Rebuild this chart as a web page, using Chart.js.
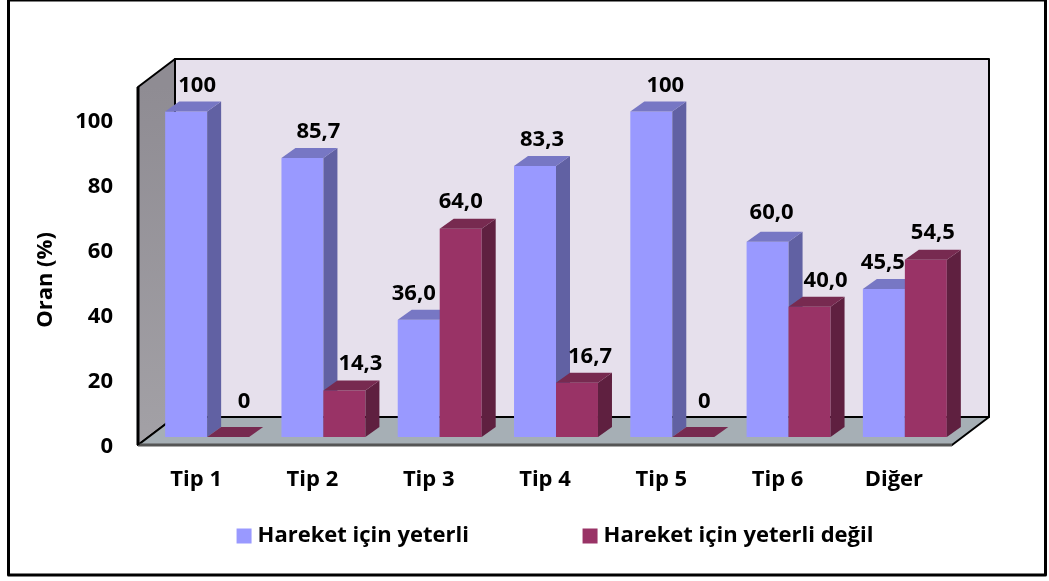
<!DOCTYPE html>
<html>
<head>
<meta charset="utf-8">
<style>
  html, body { margin: 0; padding: 0; background: #fff; }
  canvas { display: block; }
</style>
<script src="https://cdn.jsdelivr.net/npm/chart.js@4/dist/chart.umd.min.js"></script>
</head>
<body>
<canvas id="chart" width="1049" height="581"></canvas>
<script>
const categories = ['Tip 1', 'Tip 2', 'Tip 3', 'Tip 4', 'Tip 5', 'Tip 6', 'Diğer'];
const yeterli = [100, 85.7, 36.0, 83.3, 100, 60.0, 45.5];
const yeterliDegil = [0, 14.3, 64.0, 16.7, 0, 40.0, 54.5];
const seriesNames = ['Hareket için yeterli', 'Hareket için yeterli değil'];
const yTicks = [0, 20, 40, 60, 80, 100];
const yTitle = 'Oran (%)';

const FONT = '"Open Sans", sans-serif';
const BOLD = { family: FONT, size: 22, weight: 'bold' };

// hand placed labels in the original, nudge from the bar centre (px)
const labelNudge = [
    [[11, 0], [16, 0], [-5, 0], [7, 0], [14, 0], [4, 3], [-1, 0]],
    [[16, 9], [16, 1], [0, 1], [13, 0], [11, 9], [16, 0], [7, 1]]
];

const sideColors = ['#6161a3', '#5f2040'];
const topColors = ['#7777c4', '#772a50'];
const BAR_DX = 14, BAR_DY = 10;   // bar depth
const BOX_DX = 37, BOX_DY = 28;   // floor depth
const FRONT_DX = -11, FRONT_DY = 8; // front of the box compared to the bars plane

function poly(ctx, pts, fill, stroke, lw) {
    ctx.beginPath();
    pts.forEach((p, i) => i ? ctx.lineTo(p[0], p[1]) : ctx.moveTo(p[0], p[1]));
    ctx.closePath();
    if (fill) { ctx.fillStyle = fill; ctx.fill(); }
    if (stroke) { ctx.strokeStyle = stroke; ctx.lineWidth = lw; ctx.stroke(); }
}

function formatValue(v) {
    if (v === 0 || v === 100) return String(v);
    return v.toFixed(1).replace('.', ',');
}

// frame, the 3d box walls and the axis title
const boxPlugin = {
    id: 'box',
    afterLayout(chart) {
        // legend is off centre in the original
        chart.legend.left += 66;
        chart.legend.right += 66;
    },
    beforeDatasetsDraw(chart) {
        const ctx = chart.ctx;
        const a = chart.chartArea;
        const l = a.left + FRONT_DX, r = a.right + FRONT_DX;
        const t = a.top + FRONT_DY, b = a.bottom + FRONT_DY;
        ctx.save();
        ctx.lineJoin = 'round';

        ctx.strokeStyle = '#000';
        ctx.lineWidth = 3;
        ctx.strokeRect(8.5, 0, 1037, 575);

        // back wall
        poly(ctx, [[l + BOX_DX, t - BOX_DY], [r + BOX_DX, t - BOX_DY], [r + BOX_DX, b - BOX_DY], [l + BOX_DX, b - BOX_DY]], '#e6e0ec', '#000', 2);
        // left wall
        const grad = ctx.createLinearGradient(0, t, 0, b);
        grad.addColorStop(0, '#8f8c93');
        grad.addColorStop(1, '#a3a1a6');
        poly(ctx, [[l, t], [l + BOX_DX, t - BOX_DY], [l + BOX_DX, b - BOX_DY], [l, b]], grad, '#000', 2);
        // floor
        poly(ctx, [[l, b], [l + BOX_DX, b - BOX_DY], [r + BOX_DX, b - BOX_DY], [r, b]], '#a6afb5', '#000', 2);
        ctx.strokeStyle = '#555';
        ctx.lineWidth = 3;
        ctx.beginPath();
        ctx.moveTo(l, b);
        ctx.lineTo(r, b);
        ctx.stroke();
        ctx.strokeStyle = '#000';
        ctx.lineWidth = 3;
        ctx.beginPath();
        ctx.moveTo(l, b);
        ctx.lineTo(l, t);
        ctx.stroke();

        // axis title
        ctx.translate(46, 280);
        ctx.rotate(-Math.PI / 2);
        ctx.fillStyle = '#000';
        ctx.font = 'bold 22px ' + FONT;
        ctx.textAlign = 'center';
        ctx.textBaseline = 'middle';
        ctx.fillText(yTitle, 0, 0);
        ctx.restore();
    }
};

// the bars are drawn here so that each series lies over the sides of the previous one
const bars3dPlugin = {
    id: 'bars3d',
    beforeDatasetDraw() {
        return false;
    },
    afterDatasetsDraw(chart) {
        const ctx = chart.ctx;
        chart.data.datasets.forEach((ds, d) => {
            const bars = chart.getDatasetMeta(d).data;
            bars.forEach(bar => bar.draw(ctx));
            bars.forEach(bar => {
                const left = bar.x - bar.width / 2, right = bar.x + bar.width / 2;
                poly(ctx, [[right, bar.y], [right + BAR_DX, bar.y - BAR_DY], [right + BAR_DX, bar.base - BAR_DY], [right, bar.base]], sideColors[d]);
                poly(ctx, [[left, bar.y], [left + BAR_DX, bar.y - BAR_DY], [right + BAR_DX, bar.y - BAR_DY], [right, bar.y]], topColors[d]);
            });
        });
        ctx.save();
        ctx.fillStyle = '#000';
        ctx.font = 'bold 22px ' + FONT;
        ctx.textAlign = 'center';
        ctx.textBaseline = 'middle';
        chart.data.datasets.forEach((ds, d) => {
            chart.getDatasetMeta(d).data.forEach((bar, i) => {
                const n = labelNudge[d][i];
                ctx.fillText(formatValue(ds.data[i]), bar.x + n[0], bar.y - BAR_DY - 16 - n[1]);
            });
        });
        ctx.restore();
    }
};

new Chart(document.getElementById('chart'), {
    type: 'bar',
    data: {
        labels: categories,
        datasets: [
            { label: seriesNames[0], data: yeterli, backgroundColor: '#9999ff' },
            { label: seriesNames[1], data: yeterliDegil, backgroundColor: '#993366' }
        ]
    },
    options: {
        responsive: false,
        animation: false,
        categoryPercentage: 0.722,
        barPercentage: 1,
        layout: { padding: { left: 20, right: 86, top: 79, bottom: 24 } },
        scales: {
            x: {
                grid: { display: false, drawTicks: false },
                border: { display: false },
                ticks: { color: '#000', font: BOLD, padding: 30, labelOffset: FRONT_DX, maxRotation: 0 },
                afterFit(scale) { scale.height = 78; }
            },
            y: {
                min: 0,
                max: 110,
                grid: { display: false, drawTicks: false },
                border: { display: false },
                afterBuildTicks(scale) { scale.ticks = yTicks.map(v => ({ value: v })); },
                ticks: { color: '#000', font: BOLD, padding: 36, labelOffset: FRONT_DY + 2 },
                afterFit(scale) { scale.width = 129; }
            }
        },
        plugins: {
            tooltip: { enabled: false },
            legend: {
                position: 'bottom',
                labels: {
                    color: '#000',
                    font: BOLD,
                    padding: 10,
                    boxWidth: 5,
                    boxHeight: 15,
                    usePointStyle: true,
                    pointStyle: 'rect',
                    // wide gap between the two entries, label padding would also grow the height
                    generateLabels(chart) {
                        const items = Chart.defaults.plugins.legend.labels.generateLabels(chart);
                        items[0].text += '\u00A0'.repeat(19);
                        return items;
                    }
                }
            }
        }
    },
    plugins: [boxPlugin, bars3dPlugin]
});
</script>
</body>
</html>
